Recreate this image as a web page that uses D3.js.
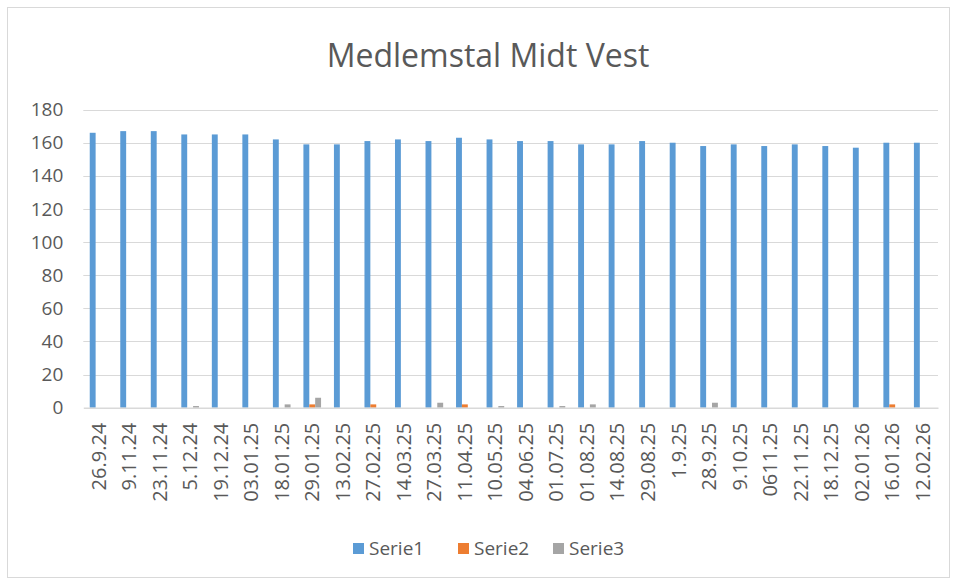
<!DOCTYPE html>
<html>
<head>
<meta charset="utf-8">
<script src="https://cdn.jsdelivr.net/npm/d3@7"></script>
<style>
  body { margin: 0; background: #fff; }
  text { font-family: "Open Sans", "Noto Sans", sans-serif; fill: #595959; }
</style>
</head>
<body>
<div id="chart"></div>
<script>
const dates = ["26.9.24", "9.11.24", "23.11.24", "5.12.24", "19.12.24", "03.01.25", "18.01.25",
  "29.01.25", "13.02.25", "27.02.25", "14.03.25", "27.03.25", "11.04.25", "10.05.25", "04.06.25",
  "01.07.25", "01.08.25", "14.08.25", "29.08.25", "1.9.25", "28.9.25", "9.10.25", "0611.25",
  "22.11.25", "18.12.25", "02.01.26", "16.01.26", "12.02.26"];
const serie1 = [166, 167, 167, 165, 165, 165, 162, 159, 159, 161, 162, 161, 163, 162, 161,
  161, 159, 159, 161, 160, 158, 159, 158, 159, 158, 157, 160, 160];
const serie2 = [0, 0, 0, 0, 0, 0, 0, 2, 0, 2, 0, 0, 2, 0, 0,
  0, 0, 0, 0, 0, 0, 0, 0, 0, 0, 0, 2, 0];
const serie3 = [0, 0, 0, 1, 0, 0, 2, 6, 0, 0, 0, 3, 0, 1, 0,
  1, 2, 0, 0, 0, 3, 0, 0, 0, 0, 0, 0, 0];
const seriesNames = ["Serie1", "Serie2", "Serie3"];
const colors = ["#5B9BD5", "#ED7D31", "#A5A5A5"];
const yTicks = [0, 20, 40, 60, 80, 100, 120, 140, 160, 180];

const width = 957, height = 582;
const margin = {top: 109.6, right: 19, bottom: 174.3, left: 83.3};

const svg = d3.select("#chart").append("svg")
  .attr("width", width)
  .attr("height", height);

// chart frame
svg.append("rect")
  .attr("x", 7.5).attr("y", 7.5)
  .attr("width", 942).attr("height", 570)
  .attr("fill", "#fff")
  .attr("stroke", "#d9d9d9");

const x0 = d3.scaleBand()
  .domain(dates)
  .range([margin.left, width - margin.right])
  .paddingInner(0.422)
  .paddingOuter(0.211);

const x1 = d3.scaleBand()
  .domain(seriesNames)
  .range([0, x0.bandwidth()]);

const y = d3.scaleLinear()
  .domain([0, 180])
  .range([height - margin.bottom, margin.top]);

// gridlines
svg.append("g")
  .selectAll("line")
  .data(yTicks.filter(d => d > 0))
  .join("line")
  .attr("x1", margin.left)
  .attr("x2", width - margin.right)
  .attr("y1", d => Math.round(y(d)) + 0.5)
  .attr("y2", d => Math.round(y(d)) + 0.5)
  .attr("stroke", "#d9d9d9")
  .attr("stroke-width", 1);

// y axis labels
const yAxis = svg.append("g")
  .attr("transform", `translate(${margin.left},0)`)
  .call(d3.axisLeft(y).tickValues(yTicks).tickSize(0).tickPadding(20));
yAxis.select(".domain").remove();
yAxis.selectAll("text")
  .style("font-size", "19px")
  .attr("fill", "#595959");

// bars
const all = [serie1, serie2, serie3];
const groups = svg.append("g")
  .selectAll("g")
  .data(dates)
  .join("g")
  .attr("transform", d => `translate(${x0(d)},0)`);

groups.selectAll("rect")
  .data((d, i) => seriesNames.map((s, k) => ({series: s, value: all[k][i], color: colors[k]})))
  .join("rect")
  .attr("x", d => x1(d.series))
  .attr("width", x1.bandwidth())
  .attr("y", d => y(d.value))
  .attr("height", d => y(0) - y(d.value))
  .attr("fill", d => d.color);

// x axis
const xAxis = svg.append("g")
  .attr("transform", `translate(0,${y(0)})`)
  .call(d3.axisBottom(x0).tickSize(0).tickPadding(0));
xAxis.select(".domain")
  .attr("stroke", "#d9d9d9")
  .attr("stroke-width", 1.5);
xAxis.selectAll("text")
  .style("font-size", "20px")
  .attr("fill", "#595959")
  .attr("text-anchor", "end")
  .attr("dy", "0.35em")
  .attr("transform", "translate(0,15) rotate(-90)");

// title
svg.append("text")
  .attr("x", 488)
  .attr("y", 67)
  .attr("text-anchor", "middle")
  .style("font-size", "32px")
  .text("Medlemstal Midt Vest");

// legend
const legendX = [353, 458, 553];
const legend = svg.append("g")
  .selectAll("g")
  .data(seriesNames)
  .join("g")
  .attr("transform", (d, i) => `translate(${legendX[i]},543)`);
legend.append("rect")
  .attr("width", 11).attr("height", 11)
  .attr("fill", (d, i) => colors[i]);
legend.append("text")
  .attr("x", 16)
  .attr("y", 5.5)
  .attr("dy", "0.35em")
  .style("font-size", "19px")
  .text(d => d);
</script>
</body>
</html>
